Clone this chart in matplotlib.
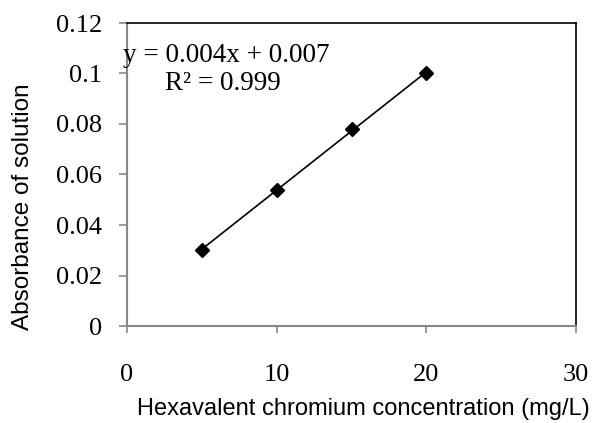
import numpy as np
import matplotlib
matplotlib.use("Agg")
import matplotlib.pyplot as plt

conc = [5, 10, 15, 20]
absorb = [0.030, 0.054, 0.078, 0.100]
x_ticks = [0, 10, 20, 30]
y_ticks = [0, 0.02, 0.04, 0.06, 0.08, 0.1, 0.12]
y_tick_labels = ["0", "0.02", "0.04", "0.06", "0.08", "0.1", "0.12"]
equation = "y = 0.004x + 0.007"
r2_text = "R\u00b2 = 0.999"

W, H = 593, 423
fig = plt.figure(figsize=(W / 100, H / 100), dpi=100)
ax = fig.add_axes([127 / W, (H - 326) / H, 449 / W, 303 / H])

slope, intercept = np.polyfit(conc, absorb, 1)
xs = np.array([min(conc), max(conc)])
ax.plot(xs, slope * xs + intercept, color="black", lw=1.2, zorder=2)
ax.plot(conc, absorb, linestyle="none", marker="D", markersize=7.5,
        color="black", zorder=3)

ax.set_xlim(0, 30)
ax.set_ylim(0, 0.12)
ax.set_xticks(x_ticks)
ax.set_yticks(y_ticks)
ax.set_yticklabels(y_tick_labels)

serif = ["Liberation Serif", "DejaVu Serif"]
for lab in ax.get_xticklabels() + ax.get_yticklabels():
    lab.set_family(serif)
    lab.set_fontsize(19)

ax.tick_params(axis="x", direction="out", length=5, width=1.2, color="#888888",
               pad=22)
ax.tick_params(axis="y", direction="out", length=6, width=1.2, color="#888888",
               pad=12)

for s in ["left", "bottom"]:
    ax.spines[s].set_color("#888888")
    ax.spines[s].set_linewidth(1.5)
for s in ["top", "right"]:
    ax.spines[s].set_color("black")
    ax.spines[s].set_linewidth(1.2)

fig.text(123 / W, 1 - 56 / H, equation, family=serif, fontsize=19.5,
         ha="left", va="center")
fig.text(165 / W, 1 - 83 / H, r2_text, family=serif, fontsize=19.5,
         ha="left", va="center")

sans = ["Liberation Sans", "DejaVu Sans"]
fig.text(363 / W, 1 - 409 / H, "Hexavalent chromium concentration (mg/L)",
         family=sans, fontsize=17, ha="center", va="center")
fig.text(23 / W, 1 - 207 / H, "Absorbance of solution",
         family=sans, fontsize=17.5, ha="center", va="center", rotation=90)

fig.savefig("out.png", dpi=100)
